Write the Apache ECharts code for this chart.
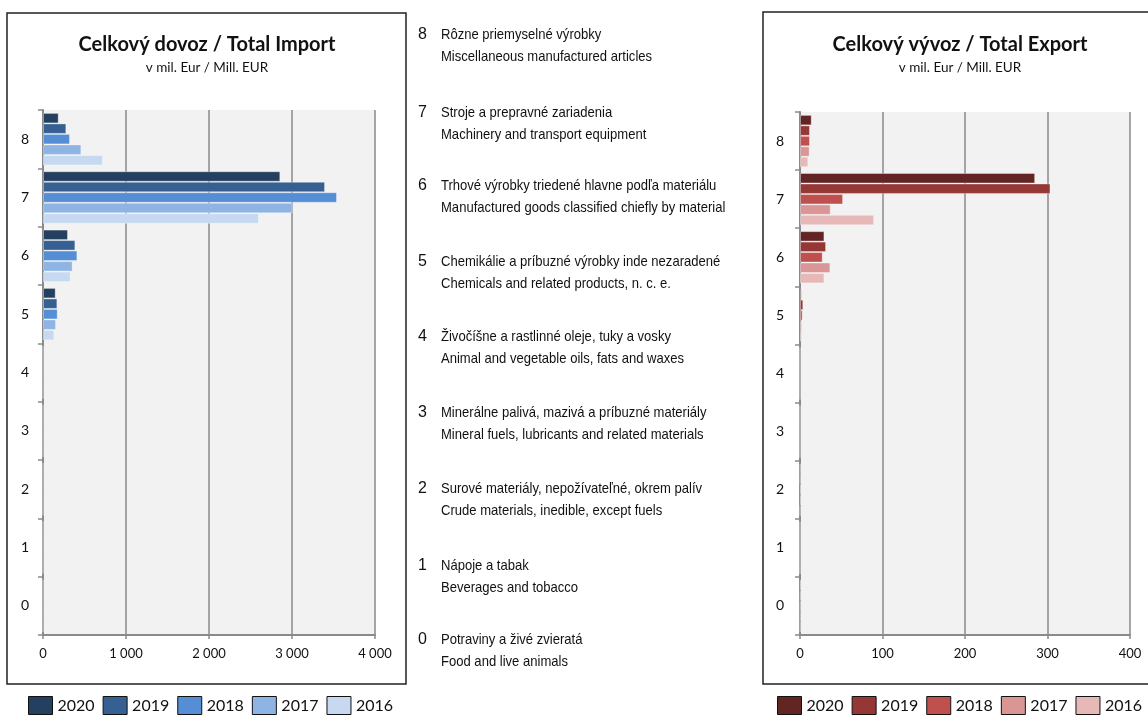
<!DOCTYPE html>
<html>
<head>
<meta charset="utf-8">
<script src="https://cdn.jsdelivr.net/npm/echarts@6/dist/echarts.min.js"></script>
<style>
html,body{margin:0;padding:0;background:#fff;}
#chart{width:1148px;height:715px;}
</style>
</head>
<body>
<div id="chart"></div>
<script>
// ---- data ----
const categories = ['0','1','2','3','4','5','6','7','8'];
const years = ['2020','2019','2018','2017','2016'];

// Import (mil. EUR), index = SITC category 0..8
const imp2020 = [0, 0, 0, 0, 0, 153, 301, 2859, 189];
const imp2019 = [0, 0, 0, 0, 0, 173, 390, 3398, 281];
const imp2018 = [0, 0, 0, 0, 0, 177, 414, 3542, 325];
const imp2017 = [0, 0, 0, 0, 0, 157, 357, 3008, 462];
const imp2016 = [0, 0, 0, 0, 0, 137, 333, 2602, 723];

// Export (mil. EUR)
const exp2020 = [1.0, 0, 0.5, 0, 0, 2.0, 29.6, 285.0, 14.2];
const exp2019 = [0.8, 0, 0.5, 0, 0, 4.0, 31.6, 303.6, 12.1];
const exp2018 = [0.6, 0, 1.0, 0, 0, 3.2, 27.5, 52.2, 12.1];
const exp2017 = [0.5, 0, 1.0, 0, 0, 2.4, 36.8, 37.2, 11.7];
const exp2016 = [0.5, 0, 0.3, 0, 0, 2.4, 29.6, 89.9, 10.1];

const importTicks = [0, 1000, 2000, 3000, 4000];
const exportTicks = [0, 100, 200, 300, 400];

const codes = ['8','7','6','5','4','3','2','1','0'];
const namesSK = [
  'Rôzne priemyselné výrobky',
  'Stroje a prepravné zariadenia',
  'Trhové výrobky triedené hlavne podľa materiálu',
  'Chemikálie a príbuzné výrobky inde nezaradené',
  'Živočíšne a rastlinné oleje, tuky a vosky',
  'Minerálne palivá, mazivá a príbuzné materiály',
  'Surové materiály, nepožívateľné, okrem palív',
  'Nápoje a tabak',
  'Potraviny a živé zvieratá'
];
const namesEN = [
  'Miscellaneous manufactured articles',
  'Machinery and transport equipment',
  'Manufactured goods classified chiefly by material',
  'Chemicals and related products, n. c. e.',
  'Animal and vegetable oils, fats and waxes',
  'Mineral fuels, lubricants and related materials',
  'Crude materials, inedible, except fuels',
  'Beverages and tobacco',
  'Food and live animals'
];

// ---- styles ----
const impColors = {'2020':'#243F60','2019':'#376092','2018':'#558ED5','2017':'#8EB4E3','2016':'#C6D9F1'};
const expColors = {'2020':'#632523','2019':'#953735','2018':'#C0504D','2017':'#D99694','2016':'#E6B9B8'};
const impData = {'2020':imp2020,'2019':imp2019,'2018':imp2018,'2017':imp2017,'2016':imp2016};
const expData = {'2020':exp2020,'2019':exp2019,'2018':exp2018,'2017':exp2017,'2016':exp2016};

const FONT = 'Lato, "Open Sans", sans-serif';
const gridBg = '#F2F2F2';
const axisGrey = '#8A8A8A';

function fmtThousands(v){
  return String(v).replace(/\B(?=(\d{3})+(?!\d))/g, ' ');
}

const series = [];
// 2020 first: drawn at top of each group
years.forEach(function(y){
  series.push({
    name: 'I' + y, type: 'bar', xAxisIndex: 0, yAxisIndex: 0,
    data: impData[y], barGap: '0%', barCategoryGap: '10%',
    itemStyle: {color: impColors[y], borderColor: 'rgba(255,255,255,0.35)', borderWidth: 1},
    emphasis: {disabled: true}
  });
});
years.forEach(function(y){
  series.push({
    name: 'E' + y, type: 'bar', xAxisIndex: 1, yAxisIndex: 1,
    data: expData[y], barGap: '0%', barCategoryGap: '10%',
    itemStyle: {color: expColors[y], borderColor: 'rgba(255,255,255,0.35)', borderWidth: 1},
    emphasis: {disabled: true}
  });
});

function valueAxis(gridIndex, ticks){
  return {
    type: 'value', gridIndex: gridIndex,
    min: ticks[0], max: ticks[ticks.length-1], interval: ticks[1]-ticks[0],
    axisLine: {show: true, lineStyle: {color: axisGrey, width: 2}},
    axisTick: {show: true, length: 4, lineStyle: {color: axisGrey, width: 1.5}},
    splitLine: {show: true, lineStyle: {color: axisGrey, width: 1.5}},
    axisLabel: {color: '#111', fontFamily: FONT, fontSize: 13, margin: 12,
      formatter: function(v){ return fmtThousands(v); }}
  };
}
function catAxis(gridIndex, margin){
  return {
    type: 'category', gridIndex: gridIndex, data: categories,
    axisLine: {show: true, lineStyle: {color: axisGrey, width: 2}},
    axisTick: {show: true, length: 5, lineStyle: {color: axisGrey, width: 1.5}},
    splitLine: {show: false},
    axisLabel: {color: '#111', fontFamily: FONT, fontSize: 14, margin: margin}
  };
}

const graphics = [];
// chart boxes
graphics.push({type:'rect', shape:{x:7, y:13, width:399, height:671},
  style:{fill:'none', stroke:'#222', lineWidth:1.5}, z: -1});
graphics.push({type:'rect', shape:{x:763, y:12, width:400, height:672},
  style:{fill:'none', stroke:'#222', lineWidth:1.5}, z: -1});

// middle description list
const rowY = [35, 113, 186, 262, 337, 413, 489, 566, 640];
codes.forEach(function(c, i){
  const y0 = rowY[i];
  graphics.push({type:'text', x: 418, y: y0, style:{text: c, fill:'#111',
    font: '16px "Liberation Sans", Arial, sans-serif', textVerticalAlign:'middle'}});
  graphics.push({type:'text', x: 441, y: y0, scaleX: 0.87, style:{text: namesSK[i], fill:'#111',
    font: '15px "Liberation Sans", Arial, sans-serif', textVerticalAlign:'middle'}});
  graphics.push({type:'text', x: 441, y: y0 + 22, scaleX: 0.87, style:{text: namesEN[i], fill:'#111',
    font: '15px "Liberation Sans", Arial, sans-serif', textVerticalAlign:'middle'}});
});

function legendCfg(prefix, left){
  return {data: years.map(function(y){return prefix+y;}), left: left, top: 696, icon: 'rect',
    width: 390, padding: 0, itemWidth: 24, itemHeight: 18, itemGap: 8, selectedMode: false,
    itemStyle: {borderColor: '#111', borderWidth: 1},
    formatter: function(n){ return n.slice(1); },
    textStyle: {fontFamily: FONT, fontSize: 16, color: '#111', padding: [0,0,0,0]}};
}

const option = {
  backgroundColor: '#fff',
  animation: false,
  title: [
    {text: 'Celkový dovoz / Total Import', subtext: 'v mil. Eur / Mill. EUR',
     left: 207, top: 35, textAlign: 'center', itemGap: 6, padding: 0,
     textStyle: {fontFamily: FONT, fontWeight: 'bold', fontSize: 20, color: '#111'},
     subtextStyle: {fontFamily: FONT, fontSize: 13.5, color: '#111'}},
    {text: 'Celkový vývoz / Total Export', subtext: 'v mil. Eur / Mill. EUR',
     left: 960, top: 35, textAlign: 'center', itemGap: 6, padding: 0,
     textStyle: {fontFamily: FONT, fontWeight: 'bold', fontSize: 20, color: '#111'},
     subtextStyle: {fontFamily: FONT, fontSize: 13.5, color: '#111'}}
  ],
  legend: [legendCfg('I', 28), legendCfg('E', 777)],
  grid: [
    {left: 43, top: 110, width: 332, height: 525, show: true, backgroundColor: gridBg, borderWidth: 0, containLabel: false},
    {left: 800, top: 112, width: 330, height: 523, show: true, backgroundColor: gridBg, borderWidth: 0, containLabel: false}
  ],
  xAxis: [valueAxis(0, importTicks), valueAxis(1, exportTicks)],
  yAxis: [catAxis(0, 14), catAxis(1, 16)],
  series: series,
  graphic: graphics
};

const chart = echarts.init(document.getElementById('chart'));
chart.setOption(option);
</script>
</body>
</html>
